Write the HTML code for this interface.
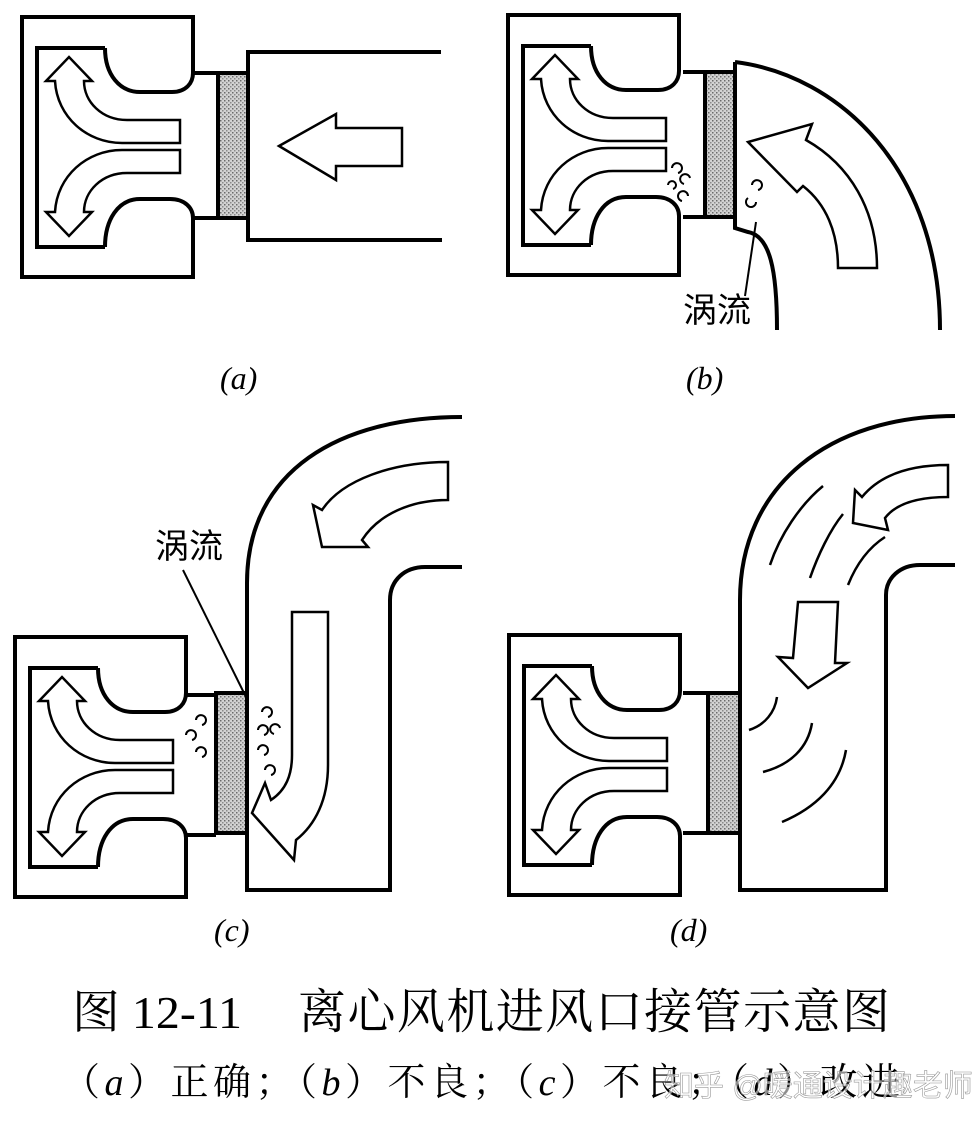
<!DOCTYPE html>
<html><head><meta charset="utf-8"><style>
html,body{margin:0;padding:0;background:#fff}
svg{display:block}
</style></head><body>
<svg width="980" height="1128" viewBox="0 0 980 1128" xmlns="http://www.w3.org/2000/svg">
<defs>
<pattern id="hp" width="4" height="4" patternUnits="userSpaceOnUse">
<rect width="4" height="4" fill="#d2d2d2"/><rect x="0" y="0" width="1.5" height="1.5" fill="#6a6a6a"/><rect x="2" y="2" width="1.5" height="1.5" fill="#8a8a8a"/>
</pattern>
<g id="fan">
<path d="M171,56 L171,0 L0,0 L0,260 L171,260 L171,201" fill="none" stroke="#000" stroke-width="4"/>
<path d="M83,31 L15,31 L15,230 L83,230" fill="none" stroke="#000" stroke-width="4"/>
<path d="M83,31 C83,58 98,75 118,75 L150,75 C164,75 171,66 171,56" fill="none" stroke="#000" stroke-width="4"/>
<path d="M171,201 C171,191 163,182 148,182 L118,182 C96,182 83,203 83,230" fill="none" stroke="#000" stroke-width="4"/>
</g>
<g id="arr">
<path d="M158,103 L105,103 C80,103 62,85 62,64 L70,64 L47,40 L24,64 L33,64 C35,100 65,126 100,126 L158,126 Z" fill="#fff" stroke="#000" stroke-width="2.5"/>
<path d="M158,156 L105,156 C80,156 62,174 62,195 L70,195 L47,219 L24,195 L33,195 C35,159 65,133 100,133 L158,133 Z" fill="#fff" stroke="#000" stroke-width="2.5"/>
</g>
</defs>

<g fill="none" stroke="#000" stroke-width="4">
<use href="#fan" x="22" y="17"/>
<use href="#arr" x="22" y="17"/>
<path d="M193,73 L218,73 M193,218 L218,218"/>
<rect x="218" y="73" width="30" height="145" fill="url(#hp)"/>
<path d="M441,52 L248,52 L248,240 L442,240"/>
<path d="M279,146 L336,114 L336,128 L402,128 L402,166 L336,166 L336,180 Z" fill="#fff" stroke-width="2.5"/>

<use href="#fan" x="508" y="15"/>
<use href="#arr" x="508" y="15"/>
<path d="M683,72 L705,72 M683,217 L705,217"/>
<rect x="705" y="72" width="30" height="145" fill="url(#hp)"/>
<path d="M735,62 L735,228 L748,232 C770,236 777,270 777,330"/>
<path d="M735,62 C840,75 940,170 940,330"/>
<path d="M838,268 C838,232 826,204 803,186 L797,192 L748,142 L812,124 L806,140 C850,165 877,210 877,268 Z" fill="#fff" stroke-width="2.5"/>
<path d="M745,296 L756,222" stroke-width="2"/>
<g stroke-width="2">
<path d="M672,168 a5,5 0 1 1 6,5 M690,178 a5,5 0 1 0 -6,6 M668,185 a4,4 0 1 1 5,4 M688,196 a5,5 0 1 0 -6,5 M752,185 a5,5 0 1 1 6,5 M748,198 a5,5 0 1 0 8,4"/>
</g>

<use href="#fan" x="15" y="637"/>
<use href="#arr" x="15" y="637"/>
<path d="M186,695 L216,695 M186,835 L216,835"/>
<rect x="216" y="693" width="31" height="140" fill="url(#hp)"/>
<path d="M462,417 C340,417 247,470 247,583 L247,890 L390,890 L390,600 C390,580 405,567 425,567 L462,567"/>
<path d="M448,462 L448,500 C410,500 378,515 362,540 L368,547 L322,547 L313,505 L322,510 C342,480 392,462 448,462 Z" fill="#fff" stroke-width="2.5"/>
<path d="M292,612 L328,612 L328,765 C328,800 315,825 296,840 L294,860 L252,813 L265,783 L271,800 C286,790 292,775 292,755 Z" fill="#fff" stroke-width="2.5"/>
<path d="M183,570 L246,697" stroke-width="2"/>
<g stroke-width="2">
<path d="M196,720 a5,5 0 1 1 6,5 M186,735 a5,5 0 1 1 6,5 M196,752 a5,5 0 1 1 6,5 M262,712 a5,5 0 1 1 6,5 M258,730 a5,5 0 1 1 6,5 M280,728 a5,5 0 1 0 -6,6 M258,750 a5,5 0 1 1 6,5 M265,770 a5,5 0 1 1 6,5"/>
</g>

<use href="#fan" x="509" y="635"/>
<use href="#arr" x="509" y="635"/>
<path d="M683,693 L708,693 M683,833 L708,833"/>
<rect x="708" y="693" width="32" height="140" fill="url(#hp)"/>
<path d="M955,416 C830,416 740,485 740,600 L740,890 L886,890 L886,595 C886,578 900,565 920,565 L955,565"/>
<path d="M948,465 L948,497 C915,497 895,505 885,518 L888,530 L853,523 L855,490 L862,497 C880,475 910,465 948,465 Z" fill="#fff" stroke-width="2.5"/>
<path d="M798,602 L838,602 L835,663 L847,663 L808,688 L778,657 L793,658 Z" fill="#fff" stroke-width="2.5"/>
<g stroke-width="2.5">
<path d="M770,565 C780,535 800,505 823,486"/>
<path d="M810,578 C818,555 830,530 843,514"/>
<path d="M848,585 C856,565 868,548 885,537"/>
<path d="M749,730 C765,725 775,712 777,697"/>
<path d="M763,772 C790,765 808,748 812,723"/>
<path d="M782,822 C815,808 840,785 846,750"/>
</g>
</g>

<g font-family="'Liberation Serif','Noto Serif CJK SC',serif" font-size="32" fill="#000">
<text x="220" y="389" font-style="italic">(a)</text>
<text x="686" y="389" font-style="italic">(b)</text>
<text x="214" y="941" font-style="italic">(c)</text>
<text x="670" y="941" font-style="italic">(d)</text>
</g>
<g font-family="'Liberation Sans','Noto Sans CJK SC',sans-serif" fill="#000">
<text x="683" y="322" font-size="34">涡流</text>
<text x="155" y="558" font-size="34">涡流</text>
</g>
<g font-family="'Liberation Serif','Noto Serif CJK SC',serif" fill="#000">
<text x="72" y="1028" font-size="46" textLength="170" lengthAdjust="spacingAndGlyphs">图 12-11</text>
<text x="298" y="1028" font-size="48" textLength="592" lengthAdjust="spacing">离心风机进风口接管示意图</text>
<text x="62" y="1095" font-size="38" textLength="838" lengthAdjust="spacing">（<tspan font-style="italic">a</tspan>）正确；（<tspan font-style="italic">b</tspan>）不良；（<tspan font-style="italic">c</tspan>）不良；（<tspan font-style="italic">d</tspan>）改进</text>
</g>
<text x="664" y="1096" font-family="'Liberation Sans','Noto Sans CJK SC',sans-serif" font-size="30" fill="#fff" fill-opacity="0.55" stroke="#999" stroke-width="0.6">知乎 @暖通设计趣老师</text>
</svg>
</body></html>
